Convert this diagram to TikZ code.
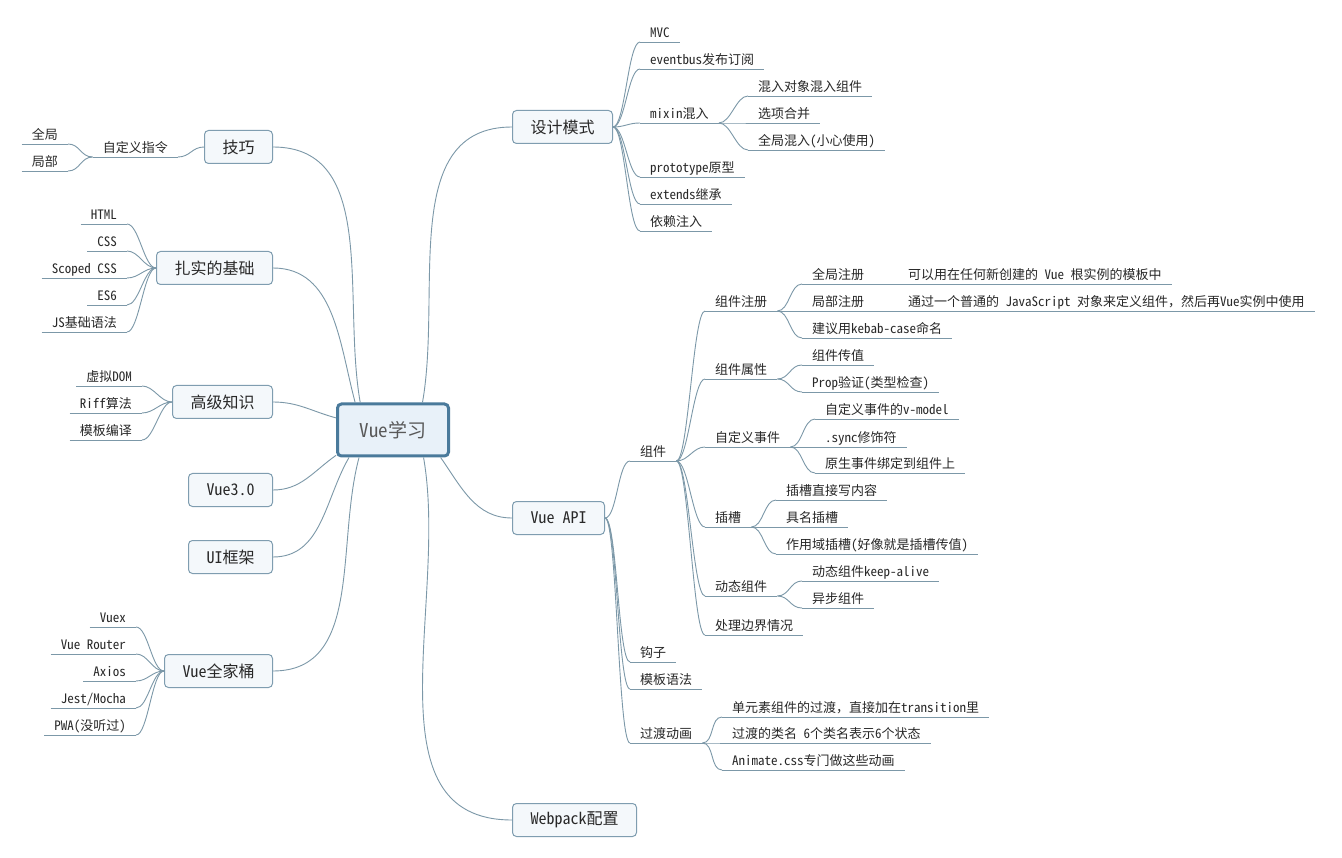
\documentclass[tikz,border=0pt]{standalone}
\usepackage{fontspec}
\setmainfont{Noto Sans Mono CJK SC}
\definecolor{linecol}{RGB}{124,152,168}
\definecolor{boxline}{RGB}{127,157,176}
\definecolor{boxfill}{RGB}{244,248,251}
\definecolor{rootline}{RGB}{74,122,155}
\definecolor{rootfill}{RGB}{232,241,249}
\definecolor{textcol}{RGB}{40,40,40}
\begin{document}
\begin{tikzpicture}[x=1pt,y=1pt,
	root/.style={draw=rootline, line width=3pt, fill=rootfill, rounded corners=4pt, minimum width=111pt, minimum height=52pt, text=black!65, font=\fontsize{19}{19}\selectfont},
	topic/.style={draw=boxline, line width=1pt, fill=boxfill, rounded corners=4pt, minimum height=33pt, inner xsep=18pt, text=textcol, font=\fontsize{16}{16}\selectfont},
	leafR/.style={anchor=south west, inner xsep=10pt, inner ysep=2pt, text height=10pt, text depth=2pt, text=textcol, font=\fontsize{13}{13}\selectfont},
	leafL/.style={leafR, anchor=south east},
	conn/.style={draw=linecol, line width=0.9pt},
	twigR/.style={out=0, in=180, distance=12pt},
	twigL/.style={out=180, in=0, distance=12pt}]
	
	\fill[white] (0,0) rectangle (1342,-858);	% background
	
	% root and main topics
	\node[root] (root) at (393,-430) {Vue学习};
	\node[topic, anchor=east] (jq) at (273,-147) {技巧};
	\node[topic, anchor=east] (jc) at (273,-268) {扎实的基础};
	\node[topic, anchor=east] (gj) at (273,-402) {高级知识};
	\node[topic, anchor=east] (v3) at (273,-490) {Vue3.0};
	\node[topic, anchor=east] (ui) at (273,-557) {UI框架};
	\node[topic, anchor=east] (qjt) at (273,-671) {Vue全家桶};
	\node[topic, anchor=west] (sj) at (512,-127) {设计模式};
	\node[topic, anchor=west] (api) at (512,-518) {Vue API};
	\node[topic, anchor=west] (wp) at (512,-820) {Webpack配置};
	
	% main branches
	\draw[conn] (root.140) to[out=100, in=0] (jq.east);
	\draw[conn] (root.144) to[out=105, in=0] (jc.east);
	\draw[conn] (root.168) to[out=165, in=0] (gj.east);
	\draw[conn] (root.204) to[out=215, in=0] (v3.east);
	\draw[conn] (root.212) to[out=240, in=0] (ui.east);
	\draw[conn] (root.219) to[out=255, in=0] (qjt.east);
	\draw[conn] (root.43) to[out=80, in=180] (sj.west);
	\draw[conn] (root.330) to[out=-55, in=180] (api.west);
	\draw[conn] (root.318) to[out=-80, in=180] (wp.west);
	
	% left side leaves
	\node[leafL] (zdy) at (178,-157) {自定义指令};
	\node[leafL] (qj) at (68,-144) {全局};
	\node[leafL] (jb) at (68,-171) {局部};
	\node[leafL] (html) at (127,-224) {HTML};
	\node[leafL] (css) at (127,-251) {CSS};
	\node[leafL] (scss) at (127,-278) {Scoped CSS};
	\node[leafL] (es6) at (127,-305) {ES6};
	\node[leafL] (jsyf) at (127,-332) {JS基础语法};
	\node[leafL] (vdom) at (142,-386) {虚拟DOM};
	\node[leafL] (riff) at (142,-413) {Riff算法};
	\node[leafL] (mbby) at (142,-440) {模板编译};
	\node[leafL] (vuex) at (136,-627) {Vuex};
	\node[leafL] (router) at (136,-654) {Vue Router};
	\node[leafL] (axios) at (136,-681) {Axios};
	\node[leafL] (jest) at (136,-708) {Jest/Mocha};
	\node[leafL] (pwa) at (136,-735) {PWA(没听过)};
	
	% design patterns
	\node[leafR] (mvc) at (640,-42) {MVC};
	\node[leafR] (evb) at (640,-69) {eventbus发布订阅};
	\node[leafR] (mix) at (640,-123) {mixin混入};
	\node[leafR] (proto) at (640,-177) {prototype原型};
	\node[leafR] (ext) at (640,-204) {extends继承};
	\node[leafR] (yl) at (640,-231) {依赖注入};
	\node[leafR] (hr1) at (748,-96) {混入对象混入组件};
	\node[leafR] (hr2) at (748,-123) {选项合并};
	\node[leafR] (hr3) at (748,-150) {全局混入(小心使用)};
	
	% vue api
	\node[leafR] (zj) at (630,-461) {组件};
	\node[leafR] (gz) at (630,-662) {钩子};
	\node[leafR] (mbyf) at (630,-689) {模板语法};
	\node[leafR] (gd) at (630,-743) {过渡动画};
	\node[leafR] (gd1) at (722,-717) {单元素组件的过渡，直接加在transition里};
	\node[leafR] (gd2) at (722,-743) {过渡的类名 6个类名表示6个状态};
	\node[leafR] (gd3) at (722,-770) {Animate.css专门做这些动画};
	
	% components
	\node[leafR] (zc) at (705,-311) {组件注册};
	\node[leafR] (sx) at (705,-379) {组件属性};
	\node[leafR] (sjian) at (705,-447) {自定义事件};
	\node[leafR] (cc) at (705,-527) {插槽};
	\node[leafR] (dt) at (705,-596) {动态组件};
	\node[leafR] (bj) at (705,-635) {处理边界情况};
	\node[leafR] (zc1) at (802,-284) {全局注册};
	\node[leafR] (zc2) at (802,-311) {局部注册};
	\node[leafR] (zc3) at (802,-338) {建议用kebab-case命名};
	\node[leafR] (zc1d) at (898,-284) {可以用在任何新创建的 Vue 根实例的模板中};
	\node[leafR] (zc2d) at (898,-311) {通过一个普通的 JavaScript 对象来定义组件，然后再Vue实例中使用};
	\node[leafR] (sx1) at (802,-365) {组件传值};
	\node[leafR] (sx2) at (802,-392) {Prop验证(类型检查)};
	\node[leafR] (sj1) at (815,-419) {自定义事件的v-model};
	\node[leafR] (sj2) at (815,-447) {.sync修饰符};
	\node[leafR] (sj3) at (815,-473) {原生事件绑定到组件上};
	\node[leafR] (cc1) at (776,-500) {插槽直接写内容};
	\node[leafR] (cc2) at (776,-527) {具名插槽};
	\node[leafR] (cc3) at (776,-554) {作用域插槽(好像就是插槽传值)};
	\node[leafR] (dt1) at (802,-581) {动态组件keep-alive};
	\node[leafR] (dt2) at (802,-608) {异步组件};
	
	% underlines
	\foreach \n in {zdy,qj,jb,html,css,scss,es6,jsyf,vdom,riff,mbby,vuex,router,axios,jest,pwa,
		mvc,evb,mix,proto,ext,yl,hr1,hr2,hr3,zj,gz,mbyf,gd,gd1,gd2,gd3,
		zc,sx,sjian,cc,dt,bj,zc1,zc2,zc3,zc1d,zc2d,sx1,sx2,sj1,sj2,sj3,cc1,cc2,cc3,dt1,dt2}
		\draw[conn] (\n.south west) -- (\n.south east);
	
	% left twigs
	\draw[conn] (jq.west) to[twigL] (zdy.south east);
	\foreach \n in {qj,jb} \draw[conn] (zdy.south west) to[twigL] (\n.south east);
	\foreach \n in {html,css,scss,es6,jsyf} \draw[conn] (jc.west) to[twigL] (\n.south east);
	\foreach \n in {vdom,riff,mbby} \draw[conn] (gj.west) to[twigL] (\n.south east);
	\foreach \n in {vuex,router,axios,jest,pwa} \draw[conn] (qjt.west) to[twigL] (\n.south east);
	
	% right twigs
	\foreach \n in {mvc,evb,mix,proto,ext,yl} \draw[conn] (sj.east) to[twigR] (\n.south west);
	\foreach \n in {hr1,hr2,hr3} \draw[conn] (mix.south east) to[twigR] (\n.south west);
	\foreach \n in {zj,gz,mbyf,gd} \draw[conn] (api.east) to[twigR] (\n.south west);
	\foreach \n in {gd1,gd2,gd3} \draw[conn] (gd.south east) to[twigR] (\n.south west);
	\foreach \n in {zc,sx,sjian,cc,dt,bj} \draw[conn] (zj.south east) to[twigR] (\n.south west);
	\foreach \n in {zc1,zc2,zc3} \draw[conn] (zc.south east) to[twigR] (\n.south west);
	\draw[conn] (zc1.south east) -- (zc1d.south west);
	\draw[conn] (zc2.south east) -- (zc2d.south west);
	\foreach \n in {sx1,sx2} \draw[conn] (sx.south east) to[twigR] (\n.south west);
	\foreach \n in {sj1,sj2,sj3} \draw[conn] (sjian.south east) to[twigR] (\n.south west);
	\foreach \n in {cc1,cc2,cc3} \draw[conn] (cc.south east) to[twigR] (\n.south west);
	\foreach \n in {dt1,dt2} \draw[conn] (dt.south east) to[twigR] (\n.south west);
\end{tikzpicture}
\end{document}
